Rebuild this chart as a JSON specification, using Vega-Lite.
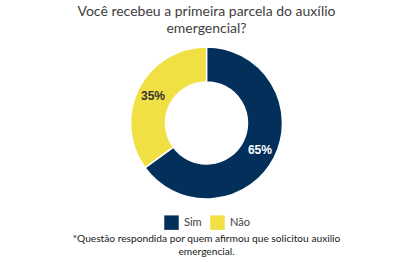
{
  "$schema": "https://vega.github.io/schema/vega-lite/v6.json",
  "background": "white",
  "padding": {"top": 5, "left": 0, "right": 0, "bottom": 0},
  "title": {
    "text": ["Você recebeu a primeira parcela do auxílio", "emergencial?"],
    "font": "Lato",
    "fontSize": 14,
    "fontWeight": "normal",
    "color": "#404040",
    "anchor": "middle",
    "lineHeight": 17,
    "offset": 8
  },
  "vconcat": [
    {
      "width": 413,
      "height": 154,
      "title": {
        "text": ["*Questão respondida por quem afirmou que solicitou auxilio", "emergencial."],
        "orient": "bottom",
        "font": "Lato",
        "fontSize": 10.2,
        "fontWeight": "normal",
        "color": "#1a1a1a",
        "anchor": "middle",
        "lineHeight": 13,
        "offset": 4
      },
      "data": {
        "values": [
          {"resposta": "Sim", "valor": 65, "ordem": 1, "rotulo": "65%"},
          {"resposta": "Não", "valor": 35, "ordem": 2, "rotulo": "35%"}
        ]
      },
      "encoding": {
        "theta": {"field": "valor", "type": "quantitative", "stack": true},
        "order": {"field": "ordem", "type": "quantitative"}
      },
      "layer": [
        {
          "mark": {"type": "arc", "outerRadius": 76, "innerRadius": 41, "stroke": "white", "strokeWidth": 1.5},
          "encoding": {
            "color": {
              "field": "resposta",
              "type": "nominal",
              "scale": {"domain": ["Sim", "Não"], "range": ["#03305A", "#F0E044"]},
              "legend": {
                "orient": "bottom",
                "direction": "horizontal",
                "title": null,
                "symbolType": "square",
                "symbolSize": 210,
                "symbolStrokeWidth": 0,
                "labelFont": "Lato",
                "labelFontSize": 11,
                "labelColor": "#404040",
                "labelOffset": 5,
                "columnPadding": 8,
                "offset": 15
              }
            }
          }
        },
        {
          "mark": {"type": "text", "radius": 60, "font": "Liberation Sans", "fontSize": 12, "fontWeight": "bold"},
          "encoding": {
            "text": {"field": "rotulo", "type": "nominal"},
            "color": {
              "condition": {"test": "datum.resposta === 'Sim'", "value": "white"},
              "value": "#333333"
            }
          }
        }
      ]
    }
  ],
  "resolve": {"legend": {"color": "independent"}},
  "config": {
    "view": {"stroke": null},
    "concat": {"spacing": 0},
    "legend": {"layout": {"bottom": {"anchor": "middle"}}}
  }
}
